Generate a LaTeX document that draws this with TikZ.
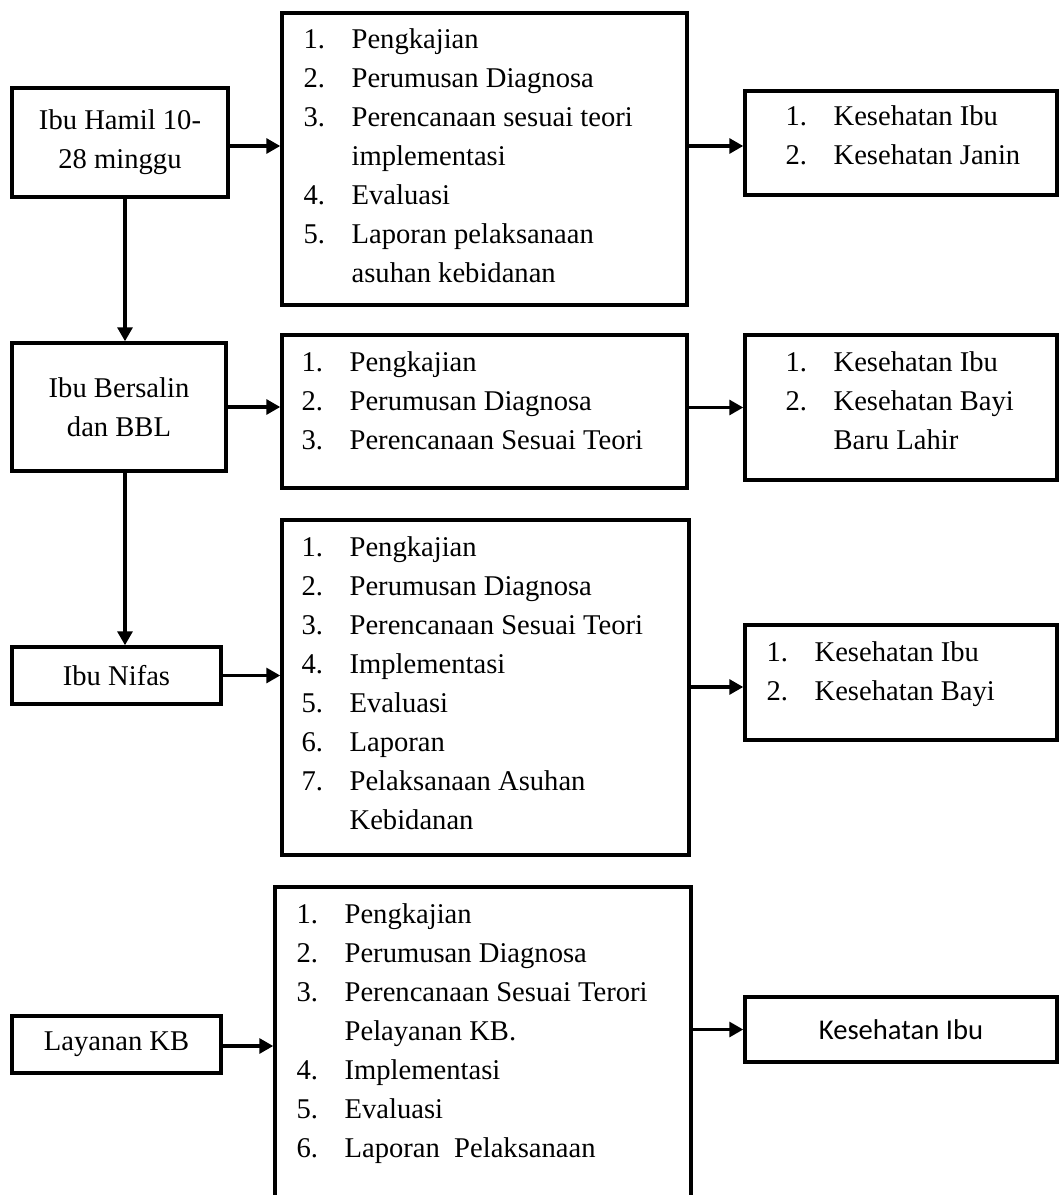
\documentclass[tikz,border=0pt]{standalone}
\usepackage{fontspec}
\setmainfont{Liberation Serif}
\newfontfamily\calibrifont{Carlito}
\usepackage{tikz}
\usetikzlibrary{arrows.meta, positioning, calc}

\newcommand{\steplist}[1]{\begin{tabular}[t]{@{}p{24pt}@{}l@{}}#1\end{tabular}}

\begin{document}
\begin{tikzpicture}[
    x=0.5pt, y=-0.5pt,
    box/.style={rectangle, draw, line width=1.75pt, inner sep=0pt, align=center, font=\fontsize{14.3}{19.5}\selectfont},
    list/.style={inner sep=0pt, anchor=base west, font=\fontsize{14.3}{19.5}\selectfont},
    arr/.style={-{Triangle[length=7pt, width=7.5pt]}, line width=1.6pt},
]
\path[use as bounding box, fill=white] (0,0) rectangle (1059,1195);

% left column
\node[box, minimum width=108pt, minimum height=54.5pt] (hamil) at (120,142.5) {Ibu Hamil 10-\\28 minggu};
\node[box, minimum width=107pt, minimum height=64pt] (bersalin) at (119,407) {Ibu Bersalin\\dan BBL};
\node[box, minimum width=104.5pt, minimum height=28.5pt] (nifas) at (116.5,675.5) {Ibu Nifas};
\node[box, minimum width=104.5pt, minimum height=28.5pt] (kb) at (116.5,1044.5) {Layanan KB};

% middle column
\node[box, minimum width=202.5pt, minimum height=146pt] (m1) at (484.5,159) {};
\node[box, minimum width=202.5pt, minimum height=76.5pt] (m2) at (484.5,411.5) {};
\node[box, minimum width=203.5pt, minimum height=167.5pt] (m3) at (485.5,687.5) {};
\node[box, minimum width=208pt, minimum height=164pt] (m4) at (483,1051) {};

\node[list] (m1txt) at ([xshift=11.5pt, yshift=-18.5pt]m1.north west) {\steplist{
1. & Pengkajian\\
2. & Perumusan Diagnosa\\
3. & Perencanaan sesuai teori\\
   & implementasi\\
4. & Evaluasi\\
5. & Laporan pelaksanaan\\
   & asuhan kebidanan}};
\node[list] (m2txt) at ([xshift=10.5pt, yshift=-19pt]m2.north west) {\steplist{
1. & Pengkajian\\
2. & Perumusan Diagnosa\\
3. & Perencanaan Sesuai Teori}};
\node[list] (m3txt) at ([xshift=10.5pt, yshift=-19pt]m3.north west) {\steplist{
1. & Pengkajian\\
2. & Perumusan Diagnosa\\
3. & Perencanaan Sesuai Teori\\
4. & Implementasi\\
5. & Evaluasi\\
6. & Laporan\\
7. & Pelaksanaan Asuhan\\
   & Kebidanan}};
\node[list] (m4txt) at ([xshift=11.5pt, yshift=-19pt]m4.north west) {\steplist{
1. & Pengkajian\\
2. & Perumusan Diagnosa\\
3. & Perencanaan Sesuai Terori\\
   & Pelayanan KB.\\
4. & Implementasi\\
5. & Evaluasi\\
6. & Laporan\ \ Pelaksanaan}};

% right column
\node[box, minimum width=156pt, minimum height=52pt] (r1) at (901,143) {};
\node[box, minimum width=156pt, minimum height=72.5pt] (r2) at (901,407.5) {};
\node[box, minimum width=156pt, minimum height=57.5pt] (r3) at (901,682.5) {};
\node[box, minimum width=156pt, minimum height=32.5pt, font=\calibrifont\fontsize{14.3}{19.5}\selectfont] (r4) at (901,1029.5) {Kesehatan Ibu};

\node[list] (r1txt) at ([xshift=21pt, yshift=-18pt]r1.north west) {\steplist{
1. & Kesehatan Ibu\\
2. & Kesehatan Janin}};
\node[list] (r2txt) at ([xshift=21pt, yshift=-19pt]r2.north west) {\steplist{
1. & Kesehatan Ibu\\
2. & Kesehatan Bayi\\
   & Baru Lahir}};
\node[list] (r3txt) at ([xshift=11.5pt, yshift=-19pt]r3.north west) {\steplist{
1. & Kesehatan Ibu\\
2. & Kesehatan Bayi}};

% arrows
\draw[arr] ([xshift=2.5pt]hamil.south) -- ([xshift=2.5pt]hamil.south |- bersalin.north);
\draw[arr] ([xshift=3pt]bersalin.south) -- ([xshift=3pt]bersalin.south |- nifas.north);

\draw[arr] ([yshift=-1.75pt]hamil.east) -- ([yshift=-1.75pt]hamil.east -| m1.west);
\draw[arr] (bersalin.east) -- (bersalin.east -| m2.west);
\draw[arr] (nifas.east) -- (nifas.east -| m3.west);
\draw[arr] ([yshift=-0.75pt]kb.east) -- ([yshift=-0.75pt]kb.east -| m4.west);

\draw[arr] ([yshift=-1.5pt]m1.east |- r1.west) -- ([yshift=-1.5pt]r1.west);
\draw[arr] (m2.east |- r2.west) -- (r2.west);
\draw[arr] ([yshift=-2.25pt]m3.east |- r3.west) -- ([yshift=-2.25pt]r3.west);
\draw[arr] (m4.east |- r4.west) -- (r4.west);
\end{tikzpicture}
\end{document}
